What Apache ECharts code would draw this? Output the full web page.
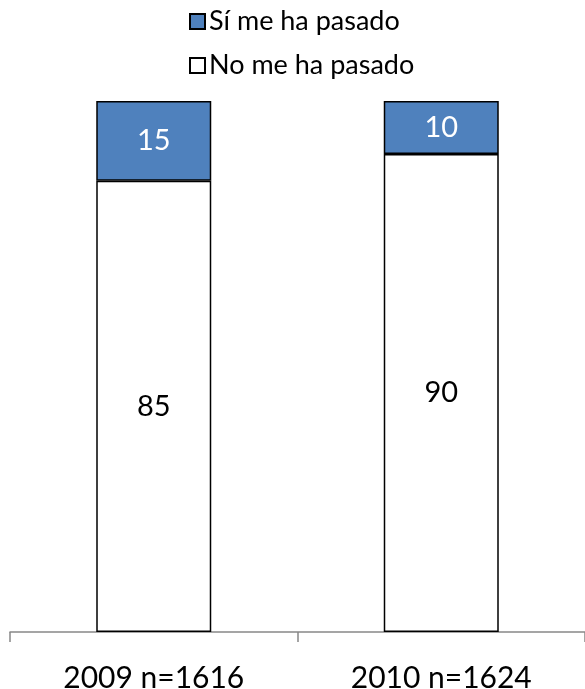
<!DOCTYPE html>
<html>
<head>
<meta charset="utf-8">
<script src="https://cdn.jsdelivr.net/npm/echarts@6/dist/echarts.min.js"></script>
<style>
  html, body { margin: 0; padding: 0; background: #fff; }
  #chart { width: 585px; height: 689px; }
</style>
</head>
<body>
<div id="chart"></div>
<script>
const categories = ['2009 n=1616', '2010 n=1624']
const noPasado = [85, 90]
const siPasado = [15, 10]

const font = 'Lato, "Open Sans", sans-serif'
const chart = echarts.init(document.getElementById('chart'))

chart.setOption({
  animation: false,
  legend: {
    data: ['Sí me ha pasado', 'No me ha pasado'],
    orient: 'vertical',
    left: 184,
    top: 3,
    itemWidth: 15,
    itemHeight: 15,
    itemGap: 17,
    icon: 'rect',
    textStyle: { fontFamily: font, fontSize: 27, color: '#000', padding: [0, 0, 0, -1] }
  },
  grid: { left: 10, right: 0, top: 101, bottom: 57, outerBoundsMode: 'none' },
  xAxis: {
    type: 'category',
    data: categories,
    axisLine: { lineStyle: { color: '#888', width: 1.5 } },
    axisTick: { show: true, length: 10, lineStyle: { color: '#888', width: 1.5 } },
    axisLabel: { fontFamily: font, fontSize: 30, color: '#000', margin: 31 }
  },
  yAxis: {
    type: 'value',
    min: 0,
    max: 100,
    show: false
  },
  series: [
    {
      name: 'No me ha pasado',
      type: 'bar',
      stack: 'total',
      barWidth: '40%',
      data: noPasado,
      itemStyle: { color: '#fff', borderColor: '#000', borderWidth: 1.5 },
      label: { show: true, position: 'inside', fontFamily: font, fontSize: 29, color: '#000' }
    },
    {
      name: 'Sí me ha pasado',
      type: 'bar',
      stack: 'total',
      barWidth: '40%',
      data: siPasado,
      itemStyle: { color: '#4F81BD', borderColor: '#000', borderWidth: 1.5 },
      label: { show: true, position: 'inside', fontFamily: font, fontSize: 29, color: '#fff' }
    }
  ]
})
</script>
</body>
</html>
